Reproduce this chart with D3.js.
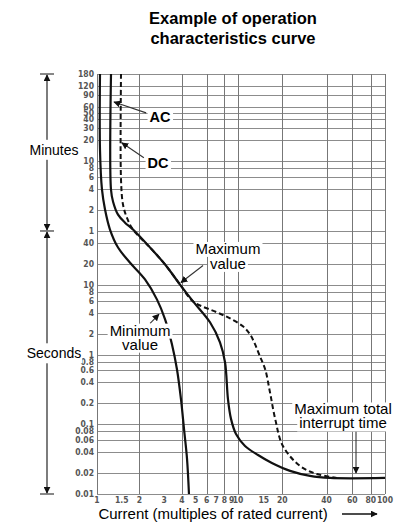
<!DOCTYPE html>
<html><head><meta charset="utf-8">
<script src="https://cdn.jsdelivr.net/npm/d3@7"></script>
<style>
body{margin:0;background:#fff}
text{font-family:"Liberation Sans",Arial,sans-serif}
.tick{font-family:"Liberation Sans Narrow","DejaVu Sans Condensed","Arial Narrow",sans-serif;font-stretch:condensed;font-weight:bold;fill:#555;font-size:8.5px}
</style>
</head><body>
<svg id="c" width="395" height="525"></svg>
<script>
// ---- data ----
const minuteTicks=[180,120,90,60,50,40,30,20,10,8,6,4,2,1];
const secondTicks=[40,20,10,8,6,4,2,1,0.8,0.6,0.4,0.2,0.1,0.08,0.06,0.04,0.02,0.01];
const currentTicks=[1,1.5,2,3,4,5,6,7,8,9,10,15,20,40,60,80,100];
const currentGrid=[1,2,4,6,8,10,20,40,60,80,100];
// [current multiple, time in seconds]
const minCurve=[[1.05,10800],[1.05,880],[1.085,235],[1.14,122],[1.236,63],[1.41,34.7],[1.71,21.2],[2.19,12.1],[2.66,6.25],[3.04,3.23],[3.40,1.42],[3.69,0.62],[3.94,0.23],[4.14,0.086],[4.35,0.032],[4.49,0.01]];
const acCurve=[[1.257,10800],[1.257,235],[1.30,158],[1.41,103],[1.58,79],[1.80,63],[2.38,34.7],[3.04,19.8],[3.88,10.2],[4.80,5.85],[6.33,2.93],[7.45,1.51],[8.09,0.78],[8.49,0.23],[8.92,0.12],[9.68,0.0727],[11.16,0.049],[13.68,0.0363],[17.0,0.0279],[22.6,0.0215],[30.9,0.0182],[42.3,0.017],[100,0.017]];
const dcCurve=[[1.48,10800],[1.48,327],[1.53,143],[1.63,93],[1.80,63],[2.38,34.7],[3.04,19.8],[3.88,10.2],[4.80,5.85],[7.10,4.07],[8.78,3.33],[10.8,2.56],[12.07,1.97],[13.05,1.42],[14.1,0.95],[15.3,0.62],[16.5,0.29],[17.9,0.12],[20.2,0.049],[26.4,0.0253],[34.4,0.0194],[47.1,0.017]];
const titleLines=["Example of operation","characteristics curve"];

// ---- scales ----
const svg=d3.select("#c");
const x=d3.scaleLog().domain([1,10,100]).range([97,238,385]);
const y=d3.scaleLog().domain([10800,0.01]).range([74,494]);
const px=v=>Math.round(x(v))+0.5, py=v=>Math.round(y(v))+0.5;

// title
svg.append("g").selectAll("text").data(titleLines).join("text")
  .attr("x",233).attr("y",(d,i)=>24+i*20).attr("text-anchor","middle")
  .attr("font-size","16.5px").attr("font-weight","bold").text(d=>d);

// grid
const yGrid=minuteTicks.map(m=>m*60).concat(secondTicks);
const g=svg.append("g").attr("shape-rendering","crispEdges");
g.selectAll(".h").data(yGrid).join("line")
  .attr("x1",x(1)).attr("x2",x(100)).attr("y1",py).attr("y2",py)
  .attr("stroke","#8c8c8c").attr("stroke-width",1);
g.selectAll(".v").data(currentGrid).join("line")
  .attr("x1",px).attr("x2",px).attr("y1",y(10800)).attr("y2",y(0.01))
  .attr("stroke","#777").attr("stroke-width",1);

// y tick labels
const ylab=svg.append("g");
ylab.selectAll(".m").data(minuteTicks).join("text").attr("class","tick")
  .attr("x",94).attr("y",d=>y(d*60)+3).attr("text-anchor","end").text(d=>d);
ylab.selectAll(".s").data(secondTicks).join("text").attr("class","tick")
  .attr("x",94).attr("y",d=>y(d)+3).attr("text-anchor","end").text(d=>d);
// x tick labels
svg.append("g").selectAll("text").data(currentTicks).join("text").attr("class","tick")
  .attr("x",d=>x(d)).attr("y",y(0.01)+9).attr("text-anchor","middle").text(d=>d);

// curves
const line=d3.line().x(d=>x(d[0])).y(d=>y(d[1])).curve(d3.curveCatmullRom.alpha(0.5));
svg.append("path").datum(dcCurve).attr("d",line).attr("fill","none").attr("stroke","#111")
  .attr("stroke-width",2).attr("stroke-dasharray","5,3");
svg.append("path").datum(acCurve).attr("d",line).attr("fill","none").attr("stroke","#111").attr("stroke-width",2.2);
svg.append("path").datum(minCurve).attr("d",line).attr("fill","none").attr("stroke","#111").attr("stroke-width",2.2);

// arrow marker
const defs=svg.append("defs");
defs.append("marker").attr("id","ah").attr("viewBox","0 0 10 10").attr("refX",9).attr("refY",5)
  .attr("markerWidth",7).attr("markerHeight",7).attr("orient","auto-start-reverse").attr("markerUnits","userSpaceOnUse")
  .append("path").attr("d","M0,0L10,5L0,10z").attr("fill","#111");

function label(lines,cx,cy,opts={}){
  const fs=opts.fs||15, lh=opts.lh||14;
  const grp=svg.append("g");
  lines.forEach((t,i)=>{
    const tx=grp.append("text").attr("x",x(cx)).attr("y",y(cy)+i*lh+fs*0.36)
      .attr("text-anchor","middle").attr("font-size",fs+"px").attr("font-weight",opts.bold?"bold":"normal").text(t);
    const b=tx.node().getBBox();
    grp.insert("rect","text").attr("x",b.x-2).attr("y",b.y+2).attr("width",b.width+4).attr("height",b.height-2).attr("fill","#fff");
  });
}
function arrow(a,b){
  svg.append("line").attr("x1",x(a[0])).attr("y1",y(a[1])).attr("x2",x(b[0])).attr("y2",y(b[1]))
    .attr("stroke","#333").attr("stroke-width",1.1).attr("marker-end","url(#ah)");
}
arrow([2.23,2984],[1.32,4290]);
label(["AC"],2.80,2614,{bold:true,fs:14.5});
arrow([2.15,676],[1.50,1109]);
label(["DC"],2.71,573,{bold:true,fs:14.5});
arrow([5.65,19.2],[3.94,10.9]);
label(["Maximum","value"],8.49,33.6,{lh:15});
arrow([2.38,2.83],[2.75,3.81]);
label(["Minimum","value"],2.02,2.25,{lh:14});
arrow([63.5,0.080],[63.5,0.020]);
label(["Maximum total","interrupt time"],51.8,0.166,{fs:15,lh:14});

// left side Minutes / Seconds ranges
const ax=47;
const sideG=svg.append("g");
function span(t0,t1){
  sideG.append("line").attr("x1",ax).attr("x2",ax).attr("y1",y(t0)+1).attr("y2",y(t1)-1)
    .attr("stroke","#111").attr("stroke-width",1.1)
    .attr("marker-start","url(#ah)").attr("marker-end","url(#ah)");
}
span(10800,60); span(60,0.01);
[10800,60,0.01].forEach(t=>sideG.append("line").attr("x1",ax-7).attr("x2",ax+7)
  .attr("y1",y(t)).attr("y2",y(t)).attr("stroke","#111").attr("stroke-width",1));
function sideLabel(t,txt){
  const tx=sideG.append("text").attr("x",ax+7).attr("y",y(t)+5).attr("text-anchor","middle")
    .attr("font-size","14px").text(txt);
  const b=tx.node().getBBox();
  sideG.insert("rect","text").attr("x",b.x-1).attr("y",b.y-2).attr("width",b.width+2).attr("height",b.height+4).attr("fill","#fff");
}
sideLabel(880,"Minutes");
sideLabel(1.05,"Seconds");

// x axis title
svg.append("text").attr("x",213).attr("y",519).attr("text-anchor","middle").attr("font-size","15px")
  .text("Current (multiples of rated current)");
svg.append("line").attr("x1",342).attr("x2",377).attr("y1",514).attr("y2",514)
  .attr("stroke","#111").attr("stroke-width",1.3).attr("marker-end","url(#ah)");
</script>
</body></html>
